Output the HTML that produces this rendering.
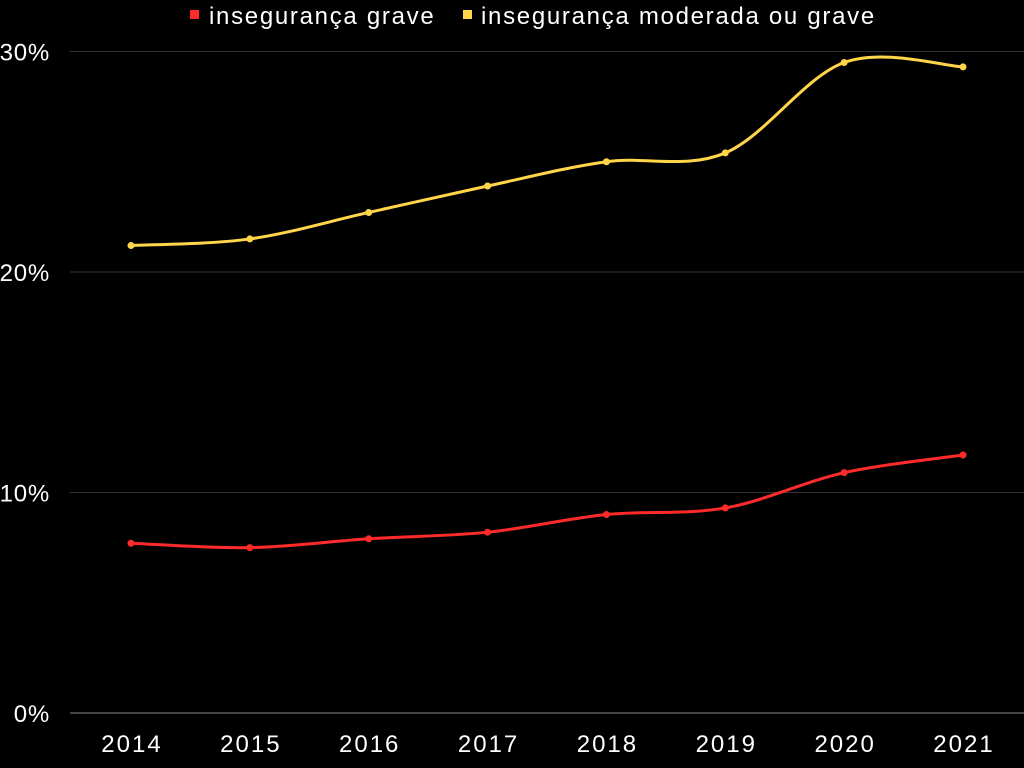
<!DOCTYPE html>
<html><head><meta charset="utf-8"><style>
html,body{margin:0;padding:0;background:#000;width:1024px;height:768px;overflow:hidden}
svg text{font-family:"Liberation Sans",sans-serif;fill:#fff}
</style></head><body>
<svg id="chart" width="1024" height="768">
<g id="grid"></g><g id="series"></g>
<g>
<rect x="190" y="10" width="9" height="9" fill="#ff2b2b"/>
<text x="209" y="24" font-size="24" letter-spacing="1.7">insegurança grave</text>
<rect x="463" y="10" width="9" height="9" fill="#ffd54a"/>
<text x="481" y="24" font-size="24" letter-spacing="1.7">insegurança moderada ou grave</text>
</g>
</svg>
<script>
const categories=["2014","2015","2016","2017","2018","2019","2020","2021"];
const grave=[7.7,7.5,7.9,8.2,9.0,9.3,10.9,11.7];
const moderada=[21.2,21.5,22.7,23.9,25.0,25.4,29.5,29.3];
const yTicks=[0,10,20,30];
const x=i=>131+i*(963-131)/(categories.length-1);
const y=v=>713-v*22.05;
const NS="http://www.w3.org/2000/svg";
const grid=document.getElementById('grid'),ser=document.getElementById('series');
function mk(t,a,p){const e=document.createElementNS(NS,t);for(const k in a)e.setAttribute(k,a[k]);p.appendChild(e);return e;}
yTicks.forEach(v=>{
 const l=mk('line',{x1:70,x2:1024,y1:y(v),y2:y(v),stroke:v===0?'#888':'#333','stroke-width':1},grid);
 
 
 const t=mk('text',{x:50,y:y(v)+9,'font-size':24,'letter-spacing':0.8,'text-anchor':'end'},grid);t.textContent=v+'%';
 
 
});
categories.forEach((c,i)=>{
 const t=mk('text',{x:x(i)+1,y:752,'font-size':24,'letter-spacing':2,'text-anchor':'middle'},grid);t.textContent=c;
 
 
});
function path(vals){
 const p=vals.map((v,i)=>[x(i),y(v)]);let d='M'+p[0];
 for(let i=0;i<p.length-1;i++){
  const p0=p[i-1]||p[i],p1=p[i],p2=p[i+1],p3=p[i+2]||p2;
  const k=1/6;
  d+=` C${p1[0]+(p2[0]-p0[0])*k},${p1[1]+(p2[1]-p0[1])*k} ${p2[0]-(p3[0]-p1[0])*k},${p2[1]-(p3[1]-p1[1])*k} ${p2[0]},${p2[1]}`;
 }return d;}
[[moderada,'#ffd54a','moderada'],[grave,'#ff2b2b','grave']].forEach(([vals,col,n])=>{
 const pa=mk('path',{d:path(vals),fill:'none',stroke:col,'stroke-width':3},ser);
 
 
 vals.forEach((v,i)=>{
  const c=mk('circle',{cx:x(i),cy:y(v),r:3.5,fill:col},ser);
  
  
 });
});
</script>
</body></html>
